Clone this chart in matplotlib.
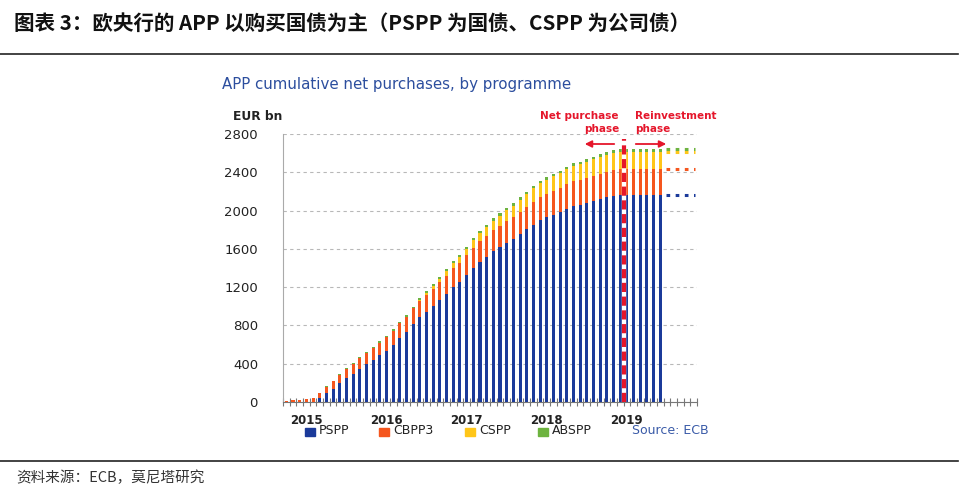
import numpy as np
import matplotlib
matplotlib.use("Agg")
import matplotlib.pyplot as plt
from matplotlib.patches import Rectangle, FancyArrowPatch

plt.rcParams['font.family'] = ['DejaVu Sans']

# ---------------- data (EUR bn, cumulative, monthly Oct 2014 - Jun 2019) ----------------
months = list(range(57))
year_labels = ["2015", "2016", "2017", "2018", "2019"]
year_pos = [3, 15, 27, 39, 51]

pspp = [0, 0, 0, 0, 0, 37, 96, 141, 196, 248, 292, 345, 395, 438, 488, 536, 598, 669,
        733, 813, 883, 945, 1003, 1069, 1131, 1202, 1255, 1329, 1404, 1466, 1517, 1574,
        1615, 1662, 1703, 1755, 1804, 1853, 1902, 1930, 1955, 1983, 2018, 2047, 2058,
        2078, 2100, 2120, 2137, 2153, 2160, 2160, 2160, 2160, 2160, 2160, 2160]
cbpp3 = [8, 17, 23, 29, 41, 55, 65, 75, 85, 95, 102, 110, 118, 126, 132, 138, 145, 152,
         158, 164, 170, 175, 178, 183, 188, 193, 198, 203, 208, 213, 218, 222, 226, 229,
         231, 235, 238, 241, 243, 246, 249, 252, 255, 257, 259, 261, 263, 265, 266, 268,
         270, 270, 270, 270, 270, 270, 270]
cspp = [0, 0, 0, 0, 0, 0, 0, 0, 0, 0, 0, 0, 0, 0, 0, 0, 0, 0, 0, 0, 10, 20, 28, 37, 45,
        53, 60, 68, 76, 84, 91, 99, 106, 113, 117, 124, 131, 138, 143, 147, 152, 156, 160,
        164, 168, 171, 173, 176, 179, 182, 185, 185, 185, 185, 185, 185, 185]
abspp = [0, 1, 2, 3, 4, 5, 6, 7, 8, 9, 10, 12, 13, 14, 15, 16, 17, 18, 19, 19, 20, 20, 21,
         21, 22, 22, 23, 23, 23, 24, 24, 24, 24, 24, 25, 25, 25, 25, 25, 25, 26, 26, 26,
         26, 26, 26, 27, 27, 27, 27, 27, 27, 27, 27, 27, 27, 27]

series_names = ["PSPP", "CBPP3", "CSPP", "ABSPP"]
colors = ["#1B3A9A", "#F5561E", "#FFC619", "#6DB33F"]
phase_split = 50.5

# ---------------- figure ----------------
W, H = 966, 496
fig = plt.figure(figsize=(W / 100, H / 100), dpi=100)
fx = lambda px: px / W
fy = lambda py: 1 - py / H

# title & rules
fig.text(fx(14), fy(23), "图表 3：欧央行的 APP 以购买国债为主（PSPP 为国债、CSPP 为公司债）",
         family=['Noto Sans CJK SC', 'DejaVu Sans'], fontsize=14.8, weight='bold',
         va='center', ha='left', color='#111111')
fig.add_artist(plt.Line2D([0, fx(958)], [fy(54), fy(54)], color='#222222', lw=1.2))
fig.add_artist(plt.Line2D([0, fx(958)], [fy(461), fy(461)], color='#222222', lw=1.2))
fig.text(fx(16), fy(478), "资料来源：ECB，莫尼塔研究",
         family=['Noto Sans CJK SC', 'DejaVu Sans'], fontsize=10.5,
         va='center', ha='left', color='#333333')

# subtitle
fig.text(fx(222), fy(85), "APP cumulative net purchases, by programme", fontsize=10.8,
         color='#2C4E9E', va='center', ha='left')
fig.text(fx(233), fy(116), "EUR bn", fontsize=8.8, weight='bold', color='#222222',
         va='center', ha='left')

ax = fig.add_axes([fx(283), fy(402), (697 - 283) / W, (402 - 134) / H])
x = np.array(months)
bottom = np.zeros(len(x))
for vals, c in zip([pspp, cbpp3, cspp, abspp], colors):
    ax.bar(x, vals, bottom=bottom, width=0.46, color=c, linewidth=0, zorder=3)
    bottom = bottom + np.array(vals)

# dotted continuation levels after the last bar
levels = np.cumsum([pspp[-1], cbpp3[-1], cspp[-1], abspp[-1]])
for lv, c in zip(levels, colors):
    ax.hlines(lv, 56.8, 61.2, colors=c, linestyles=(0, (1.2, 1.8)), lw=2.2, zorder=3)

ax.set_xlim(-0.5, 61.5)
ax.set_ylim(0, 2800)
ax.set_yticks(range(0, 2801, 400))
ax.tick_params(axis='y', length=0, pad=18, labelsize=9.5, labelcolor='#222222')
ax.yaxis.grid(True, color='#B8B8B8', linestyle=(0, (3, 3)), lw=0.8, zorder=0)
ax.set_xticks(year_pos)
ax.set_xticklabels(year_labels, fontsize=8.5, weight='bold', color='#222222')
ax.set_xticks(np.arange(-0.5, 62, 1), minor=True)
ax.tick_params(axis='x', which='major', length=0, pad=9)
ax.tick_params(axis='x', which='minor', length=6, direction='inout', color='#777777', width=0.8)
for s in ['top', 'right']:
    ax.spines[s].set_visible(False)
ax.spines['left'].set_color('#AAAAAA')
ax.spines['bottom'].set_color('#777777')

# phase separator
ax.vlines(phase_split, 0, 2745, colors='white', lw=3.2, zorder=4)
ax.vlines(phase_split, 0, 2745, colors='#E5162B', lw=3.0, linestyles=(0, (2.2, 1.1)), zorder=5)

# arrows & phase labels (figure coords)
fig.add_artist(FancyArrowPatch((fx(617), fy(144)), (fx(582), fy(144)), arrowstyle='-|>',
                               mutation_scale=10, color='#E5162B', lw=1.3))
fig.add_artist(FancyArrowPatch((fx(633), fy(144)), (fx(669), fy(144)), arrowstyle='-|>',
                               mutation_scale=10, color='#E5162B', lw=1.3))
fig.text(fx(619), fy(116), "Net purchase", fontsize=7.5, weight='bold', color='#E5162B',
         ha='right', va='center')
fig.text(fx(619), fy(129), "phase", fontsize=7.5, weight='bold', color='#E5162B',
         ha='right', va='center')
fig.text(fx(635), fy(116), "Reinvestment", fontsize=7.5, weight='bold', color='#E5162B',
         ha='left', va='center')
fig.text(fx(635), fy(129), "phase", fontsize=7.5, weight='bold', color='#E5162B',
         ha='left', va='center')

# legend (manual)
leg_sq = [305, 379, 465, 538]
for name, c, px in zip(series_names, colors, leg_sq):
    fig.add_artist(Rectangle((fx(px), fy(436)), 10 / W, 8 / H, color=c,
                             transform=fig.transFigure))
    fig.text(fx(px + 14), fy(431), name, fontsize=9, color='#222222', ha='left', va='center')
fig.text(fx(632), fy(431), "Source: ECB", fontsize=9, color='#3A5BA8', ha='left', va='center')

fig.savefig("out.png", dpi=100)
